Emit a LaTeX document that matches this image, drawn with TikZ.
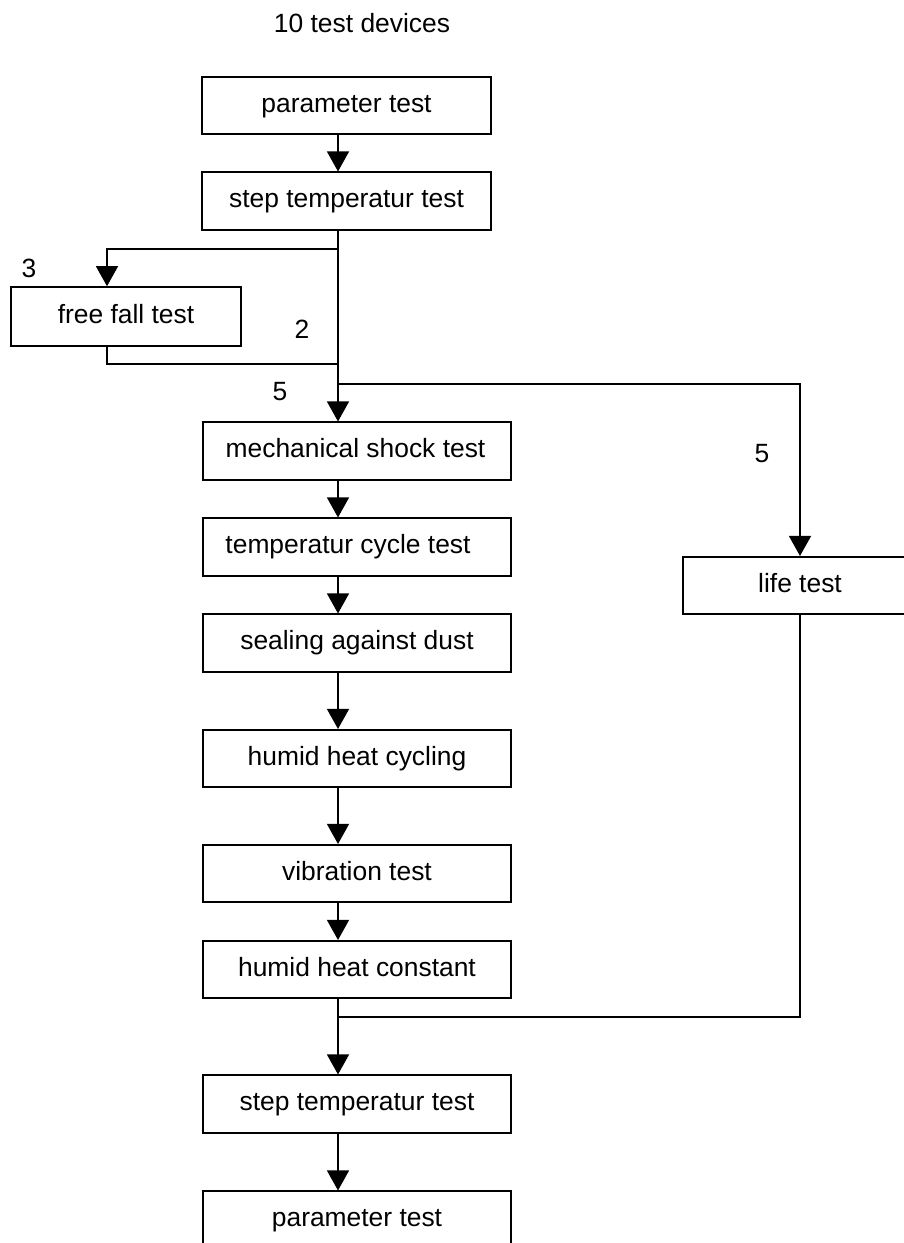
\documentclass[tikz,border=0pt]{standalone}
\usepackage{fontspec}
\setmainfont{Liberation Sans}
\usetikzlibrary{arrows.meta}
\tikzset{
  box/.style={draw=black, line width=1.6pt, rectangle, inner sep=0pt,
    minimum height=57.5pt, text height=19.8pt, text depth=6.6pt},
  narrowbox/.style={box, minimum width=289pt},
  widebox/.style={box, minimum width=308pt},
  lifebox/.style={box, minimum width=234pt},
  ffbox/.style={box, minimum width=230pt, minimum height=59pt},
  conn/.style={draw=black, line width=1.3pt},
  arr/.style={conn, -{Triangle[width=22pt,length=20pt]}},
  lbl/.style={inner sep=0pt, anchor=base},
}
\begin{document}
\begin{tikzpicture}[x=1pt, y=-1pt, font=\fontsize{26.4}{30}\selectfont]
\useasboundingbox (0,0) rectangle (904,1243);
\fill[white] (0,0) rectangle (904,1243);
\clip (0,0) rectangle (904,1243);

\node[lbl] (title) at (362,32) {10 test devices};

\coordinate (col) at (338,0);
\coordinate (rcol) at (800,0);
\coordinate (fcol) at (107,0);

\node[narrowbox] (p1) at (346.5,105.5) {parameter test};
\node[narrowbox] (s1) at (346.5,201) {step temperatur test};
\node[ffbox] (ff) at (126,316.5) {free fall test};
\node[widebox] (ms) at (357,451) {mechanical shock test\rule{3pt}{0pt}};
\node[widebox] (tc) at (357,547) {temperatur cycle test\rule{18pt}{0pt}};
\node[widebox] (sd) at (357,643) {sealing against dust};
\node[widebox] (hc) at (357,758.5) {humid heat cycling};
\node[widebox] (vt) at (357,873.5) {vibration test};
\node[widebox] (hk) at (357,969.5) {humid heat constant};
\node[widebox] (s2) at (357,1104) {step temperatur test};
\node[widebox] (p2) at (357,1220) {parameter test};
\node[lifebox] (lt) at (800,585.5) {life test};

\coordinate (b1) at (338,249);
\coordinate (b2) at (338,364);
\coordinate (b3) at (338,384);
\coordinate (b4) at (338,1017);
\coordinate (f1) at (107,249);
\coordinate (f2) at (107,364);
\coordinate (r1) at (800,384);
\coordinate (r2) at (800,1017);

\node[lbl] (n3) at (29,277) {3};
\node[lbl] (n2) at (302,338) {2};
\node[lbl] (n5a) at (280,400) {5};
\node[lbl] (n5b) at (762,462) {5};

\draw[arr] (p1.south -| col) -- (s1.north -| col);
\draw[arr] (s1.south -| col) -- (ms.north -| col);
\draw[arr] (b1) -- (f1) -- (ff.north -| fcol);
\draw[conn] (ff.south -| fcol) -- (f2) -- (b2);
\draw[arr] (b3) -- (r1) -- (lt.north);
\draw[arr] (ms.south -| col) -- (tc.north -| col);
\draw[arr] (tc.south -| col) -- (sd.north -| col);
\draw[arr] (sd.south -| col) -- (hc.north -| col);
\draw[arr] (hc.south -| col) -- (vt.north -| col);
\draw[arr] (vt.south -| col) -- (hk.north -| col);
\draw[arr] (hk.south -| col) -- (s2.north -| col);
\draw[conn] (lt.south) -- (r2) -- (b4);
\draw[arr] (s2.south -| col) -- (p2.north -| col);
\end{tikzpicture}
\end{document}
